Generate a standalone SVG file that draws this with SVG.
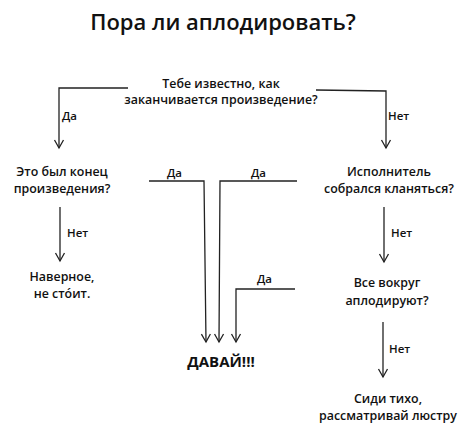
<svg xmlns="http://www.w3.org/2000/svg" width="462" height="427" viewBox="0 0 462 427">
<style>
text{font-family:"Open Sans","Noto Sans","Liberation Sans",sans-serif;fill:#111;text-anchor:middle;font-weight:600}
.t{font-size:22px;font-weight:600}
.n{font-size:12.4px}
.l{font-size:11.5px;text-anchor:start}
.b{font-size:15px;font-weight:700}
.c{fill:none;stroke:#222;stroke-width:1.3}
</style>
<defs>
<marker id="a" viewBox="-10 -6 12 12" markerWidth="12" markerHeight="12" refX="0" refY="0" orient="auto" markerUnits="userSpaceOnUse">
<path d="M-8,-4.5 L0,0 L-8,4.5" fill="none" stroke="#222" stroke-width="1.3"/>
</marker>
</defs>
<rect width="462" height="427" fill="#fff"/>
<text class="t" x="223" y="30">Пора ли аплодировать?</text>
<g id="q1"><text class="n" x="221" y="88">Тебе известно, как</text><text class="n" x="221" y="104">заканчивается произведение?</text></g>
<g id="q2"><text class="n" x="62" y="176">Это был конец</text><text class="n" x="62" y="193">произведения?</text></g>
<g id="r1"><text class="n" x="62" y="281">Наверное,</text><text class="n" x="62" y="298">не сто́ит.</text></g>
<g id="q3"><text class="n" x="389" y="176">Исполнитель</text><text class="n" x="389" y="193">собрался кланяться?</text></g>
<g id="q4"><text class="n" x="387" y="287">Все вокруг</text><text class="n" x="387" y="305">аплодируют?</text></g>
<g id="r2"><text class="n" x="388" y="403">Сиди тихо,</text><text class="n" x="388" y="420">рассматривай люстру</text></g>
<g id="go"><text class="b" x="221" y="367">ДАВАЙ!!!</text></g>
<g id="connectors">
<path class="c" d="M128,88 L59,88 L59,148" marker-end="url(#a)"/>
<path class="c" d="M316,90 L386,91 L386,148" marker-end="url(#a)"/>
<path class="c" d="M60,207 L60,261" marker-end="url(#a)"/>
<path class="c" d="M384,207 L384,262" marker-end="url(#a)"/>
<path class="c" d="M383,322 L383,377" marker-end="url(#a)"/>
<path class="c" d="M149,181 L204,181 L206,342" marker-end="url(#a)"/>
<path class="c" d="M297,181 L220,181 L219,342" marker-end="url(#a)"/>
<path class="c" d="M295,289 L236,289 L236,342" marker-end="url(#a)"/>
<text class="l" x="62" y="120">Да</text>
<text class="l" x="388" y="120">Нет</text>
<text class="l" x="67" y="237">Нет</text>
<text class="l" x="391" y="237">Нет</text>
<text class="l" x="389" y="353">Нет</text>
<text class="l" x="167" y="177">Да</text>
<text class="l" x="251" y="177">Да</text>
<text class="l" x="257" y="283">Да</text>
</g>
</svg>
